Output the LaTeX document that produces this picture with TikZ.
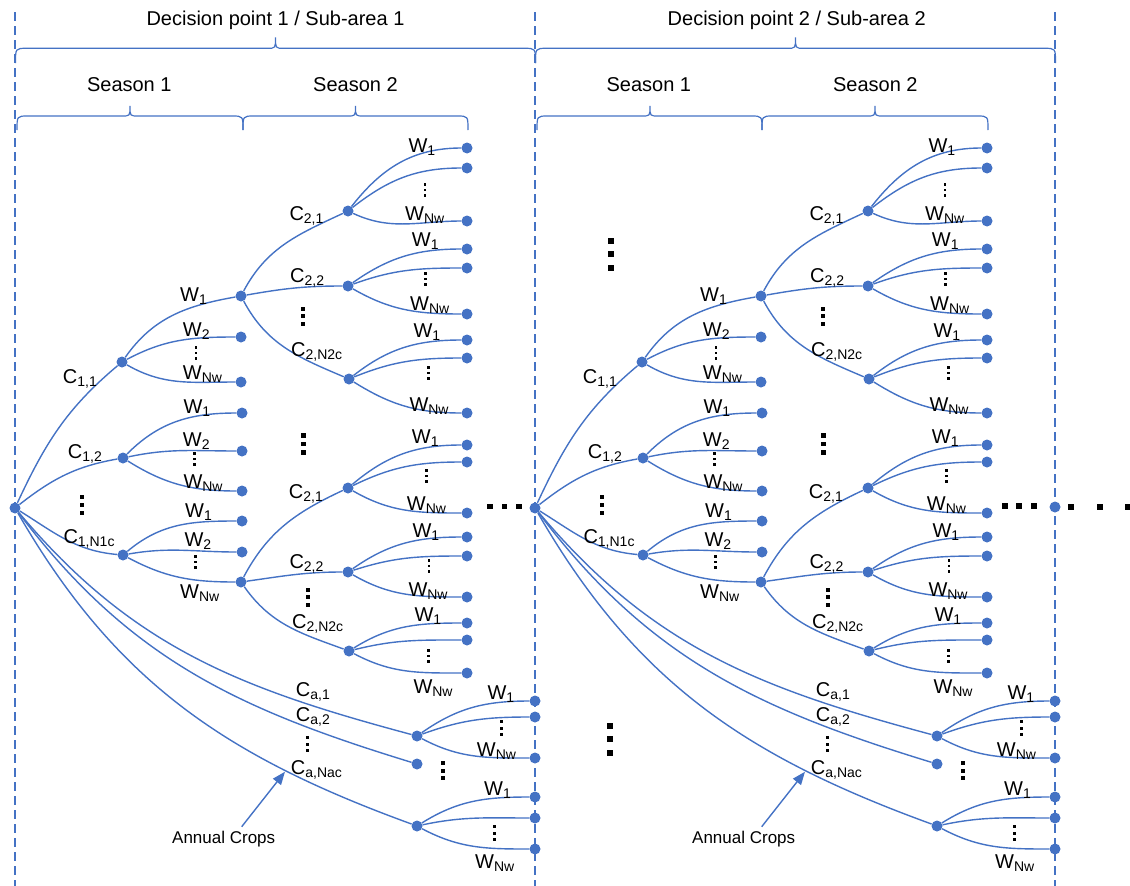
\documentclass[tikz,border=0pt]{standalone}
\usepackage{fontspec}
\setmainfont{Liberation Sans}
\usetikzlibrary{arrows.meta}
\definecolor{treeblue}{RGB}{68,114,196}
% lowered subscript used in the crop / water labels
\newcommand{\sub}[1]{\raisebox{-3pt}{\fontsize{14}{14}\selectfont #1}}
% three stacked squares: x, y (downwards), square size, spacing
\newcommand{\vdts}[4]{\foreach \k in {-1,0,1}{\fill (#1-#3/2, -#2+\k*#4-#3/2) rectangle ++(#3,#3);}}
% curly bracket: left x, right x, tip x, end y, line y, tip y (y downwards)
\newcommand{\curly}[6]{\draw[bracket] (#1,-#4) .. controls (#1,-#5) .. (#1+11,-#5) -- (#3-8,-#5)
  .. controls (#3,-#5) .. (#3,-#6) .. controls (#3,-#5) .. (#3+8,-#5) -- (#2-11,-#5)
  .. controls (#2,-#5) .. (#2,-#4);}
\tikzset{
  bead/.style={circle, fill=treeblue, inner sep=0pt, minimum size=11pt},
  link/.style={draw=treeblue, line width=1.4pt},
  bracket/.style={draw=treeblue, line width=1.2pt},
  divider/.style={draw=treeblue, line width=1.2pt, dash pattern=on 9pt off 5pt},
  lbl/.style={anchor=base west, inner sep=0pt, font=\fontsize{20}{24}\selectfont},
  head/.style={anchor=base, inner sep=0pt, font=\fontsize{20}{24}\selectfont},
  pointer/.style={draw=treeblue, line width=1.4pt, -{Triangle[length=13pt,width=10pt]}},
}
\begin{document}
\begin{tikzpicture}[x=1pt,y=1pt]
\useasboundingbox (0,0) rectangle (1130,-886);

% section dividers
\foreach \xx in {15,535,1055} \draw[divider] (\xx,-12) -- (\xx,-886);

% headings and brackets
\node[head] (dp1) at (275.5,-25) {Decision point 1 / Sub-area 1};
\node[head] (dp2) at (796.7,-25) {Decision point 2 / Sub-area 2};
\node[head] (s11) at (129.3,-91.7) {Season 1};
\node[head] (s12) at (355.5,-91.7) {Season 2};
\node[head] (s21) at (648.8,-91.7) {Season 1};
\node[head] (s22) at (875.3,-91.7) {Season 2};
\curly{15.5}{535.5}{275.5}{63}{48.3}{37.5}
\curly{535.5}{1055.5}{795.5}{63}{48.3}{37.5}
\curly{17}{243}{130}{130}{116}{106}
\curly{243}{468}{355.5}{130}{116}{106}
\curly{537}{762}{650}{130}{116}{106}
\curly{762}{988}{875}{130}{116}{106}

% one decision tree per sub-area
\foreach \dx/\h in {0/L,520/R}{
\begin{scope}[xshift=\dx pt]
  \node[bead] (\h-root) at (15,-508) {};
  % season 1 crops
  \node[bead] (\h-A1) at (122,-362) {};
  \node[bead] (\h-A2) at (123,-458) {};
  \node[bead] (\h-A3) at (123,-555) {};
  \node[bead] (\h-B1) at (241,-296) {};
  \node[bead] (\h-A1b) at (241,-337) {};
  \node[bead] (\h-A1c) at (241,-382) {};
  \node[bead] (\h-A2a) at (242,-413) {};
  \node[bead] (\h-A2b) at (242,-451) {};
  \node[bead] (\h-A2c) at (242,-491) {};
  \node[bead] (\h-A3a) at (242,-521) {};
  \node[bead] (\h-A3b) at (242,-552) {};
  \node[bead] (\h-B2) at (241,-582) {};
  % season 2 crops
  \node[bead] (\h-P1) at (348,-211) {};
  \node[bead] (\h-P2) at (348,-286) {};
  \node[bead] (\h-P3) at (349,-379) {};
  \node[bead] (\h-Q1) at (348,-488) {};
  \node[bead] (\h-Q2) at (348,-572) {};
  \node[bead] (\h-Q3) at (349,-651) {};
  \node[bead] (\h-P1a) at (467,-148) {};
  \node[bead] (\h-P1b) at (467,-168) {};
  \node[bead] (\h-P1c) at (467,-221) {};
  \node[bead] (\h-P2a) at (467,-249) {};
  \node[bead] (\h-P2b) at (467,-268) {};
  \node[bead] (\h-P2c) at (467,-314) {};
  \node[bead] (\h-P3a) at (467,-340) {};
  \node[bead] (\h-P3b) at (467,-358) {};
  \node[bead] (\h-P3c) at (467,-413) {};
  \node[bead] (\h-Q1a) at (467,-445) {};
  \node[bead] (\h-Q1b) at (467,-462) {};
  \node[bead] (\h-Q1c) at (467,-513) {};
  \node[bead] (\h-Q2a) at (467,-537) {};
  \node[bead] (\h-Q2b) at (467,-556) {};
  \node[bead] (\h-Q2c) at (467,-597) {};
  \node[bead] (\h-Q3a) at (467,-623) {};
  \node[bead] (\h-Q3b) at (467,-640) {};
  \node[bead] (\h-Q3c) at (467,-673) {};
  % annual crops
  \node[bead] (\h-K1) at (417,-736) {};
  \node[bead] (\h-K2) at (417,-764) {};
  \node[bead] (\h-K3) at (417,-826) {};
  \node[bead] (\h-K1a) at (535,-701) {};
  \node[bead] (\h-K1b) at (535,-717) {};
  \node[bead] (\h-K1c) at (535,-758) {};
  \node[bead] (\h-K3a) at (535,-797) {};
  \node[bead] (\h-K3b) at (535,-818) {};
  \node[bead] (\h-K3c) at (535,-849) {};

  % branches
  \draw[link] (\h-root) to[out=65,in=220] (\h-A1);
  \draw[link] (\h-root) to[out=38,in=190] (\h-A2);
  \draw[link] (\h-root) to[out=-32,in=175] (\h-A3);
  \draw[link] (\h-root) to[out=-50,in=165] (\h-K1);
  \draw[link] (\h-root) to[out=-53,in=163] (\h-K2);
  \draw[link] (\h-root) to[out=-60,in=160] (\h-K3);
  \draw[link] (\h-A1) to[out=55,in=190] (\h-B1);
  \draw[link] (\h-A1) to[out=28,in=180] (\h-A1b);
  \draw[link] (\h-A1) to[out=-30,in=180] (\h-A1c);
  \draw[link] (\h-A2) to[out=45,in=180] (\h-A2a);
  \draw[link] (\h-A2) to[out=12,in=180] (\h-A2b);
  \draw[link] (\h-A2) to[out=-32,in=180] (\h-A2c);
  \draw[link] (\h-A3) to[out=40,in=180] (\h-A3a);
  \draw[link] (\h-A3) to[out=10,in=180] (\h-A3b);
  \draw[link] (\h-A3) to[out=-28,in=180] (\h-B2);
  \draw[link] (\h-B1) to[out=62,in=205] (\h-P1);
  \draw[link] (\h-B1) to[out=10,in=180] (\h-P2);
  \draw[link] (\h-B1) to[out=-62,in=157] (\h-P3);
  \draw[link] (\h-B2) to[out=62,in=205] (\h-Q1);
  \draw[link] (\h-B2) to[out=8,in=180] (\h-Q2);
  \draw[link] (\h-B2) to[out=-55,in=160] (\h-Q3);
  \foreach \p/\a/\b/\c in {P1/52/38/-25, P2/35/20/-30, P3/38/22/-32,
                           Q1/40/26/-30, Q2/35/18/-30, Q3/32/14/-28,
                           K1/35/20/-28, K3/32/12/-28}{
    \draw[link] (\h-\p) to[out=\a,in=180] (\h-\p a);
    \draw[link] (\h-\p) to[out=\b,in=180] (\h-\p b);
    \draw[link] (\h-\p) to[out=\c,in=180] (\h-\p c);
  }

  % labels
  \node[lbl] at (62.7,-383.3) {C\sub{1,1}};
  \node[lbl] at (67.7,-458.3) {C\sub{1,2}};
  \node[lbl] at (63.3,-543.3) {C\sub{1,N1c}};
  \node[lbl] at (180,-301.7) {W\sub{1}};
  \node[lbl] at (182.7,-336.7) {W\sub{2}};
  \node[lbl] at (182.7,-379.3) {W\sub{Nw}};
  \node[lbl] at (183.3,-413.3) {W\sub{1}};
  \node[lbl] at (182.7,-446.7) {W\sub{2}};
  \node[lbl] at (183.3,-488.3) {W\sub{Nw}};
  \node[lbl] at (185,-517.3) {W\sub{1}};
  \node[lbl] at (184.3,-546) {W\sub{2}};
  \node[lbl] at (180,-598.3) {W\sub{Nw}};
  \node[lbl] at (289.3,-220.7) {C\sub{2,1}};
  \node[lbl] at (290,-282.7) {C\sub{2,2}};
  \node[lbl] at (291,-356.7) {C\sub{2,N2c}};
  \node[lbl] at (288.7,-498.3) {C\sub{2,1}};
  \node[lbl] at (289.3,-568.3) {C\sub{2,2}};
  \node[lbl] at (292,-628.3) {C\sub{2,N2c}};
  \node[lbl] at (408.3,-152.7) {W\sub{1}};
  \node[lbl] at (405,-220) {W\sub{Nw}};
  \node[lbl] at (411.7,-246) {W\sub{1}};
  \node[lbl] at (410,-310) {W\sub{Nw}};
  \node[lbl] at (413.3,-337.3) {W\sub{1}};
  \node[lbl] at (409.3,-411.7) {W\sub{Nw}};
  \node[lbl] at (411.7,-443.3) {W\sub{1}};
  \node[lbl] at (406.7,-510) {W\sub{Nw}};
  \node[lbl] at (412.3,-537.3) {W\sub{1}};
  \node[lbl] at (408.3,-596.7) {W\sub{Nw}};
  \node[lbl] at (414.3,-621.7) {W\sub{1}};
  \node[lbl] at (413.3,-693.3) {W\sub{Nw}};
  \node[lbl] at (295.7,-696.7) {C\sub{a,1}};
  \node[lbl] at (295.7,-721.7) {C\sub{a,2}};
  \node[lbl] at (290.7,-774) {C\sub{a,Nac}};
  \node[lbl] at (487.3,-699.3) {W\sub{1}};
  \node[lbl] at (476.7,-756) {W\sub{Nw}};
  \node[lbl] at (484,-795) {W\sub{1}};
  \node[lbl] at (475,-868.3) {W\sub{Nw}};

  % annual crops pointer
  \node[lbl, font=\fontsize{17}{20}\selectfont] (\h-ac) at (172,-843) {Annual Crops};
  \coordinate (\h-tail) at (241.7,-826.7);
  \coordinate (\h-tip) at (285,-771.7);
  \draw[pointer] (\h-tail) -- (\h-tip);

  % omitted branches
  \vdts{196}{353}{2.6}{5.5}
  \vdts{194.3}{459}{2.6}{5.5}
  \vdts{195.7}{562}{2.6}{5.5}
  \vdts{425}{190}{2.6}{5.5}
  \vdts{425.7}{279}{2.6}{5.5}
  \vdts{428.3}{373}{2.6}{5.5}
  \vdts{426.7}{476}{2.6}{5.5}
  \vdts{429}{566}{2.6}{5.5}
  \vdts{428.3}{656}{2.6}{5.5}
  \vdts{501.7}{728}{3}{6.5}
  \vdts{494}{833}{3}{6.5}
  \vdts{307.3}{744}{3}{6.5}
  \vdts{303.3}{316}{4}{7.5}
  \vdts{308.3}{597}{4}{7.5}
  \vdts{303.3}{444}{4.5}{8.5}
  \vdts{81.7}{505}{4.3}{8}
  \vdts{443.3}{770.5}{4}{7.5}
\end{scope}
}

% ellipses between and after the sub-areas
\vdts{610.7}{254}{6}{13.5}
\vdts{609.6}{739.3}{6}{13.3}
\foreach \xx in {490,504.5,519} \fill (\xx-2.8,-509.3) rectangle ++(5.6,5.6);
\foreach \xx in {1005.3,1019.3,1034} \fill (\xx-3,-508.7) rectangle ++(6,6);
\node[bead] (next-root) at (1055,-507) {};
\foreach \xx in {1070.7,1100,1128.3} \fill (\xx-3,-509.5) rectangle ++(6,6);
\end{tikzpicture}
\end{document}
